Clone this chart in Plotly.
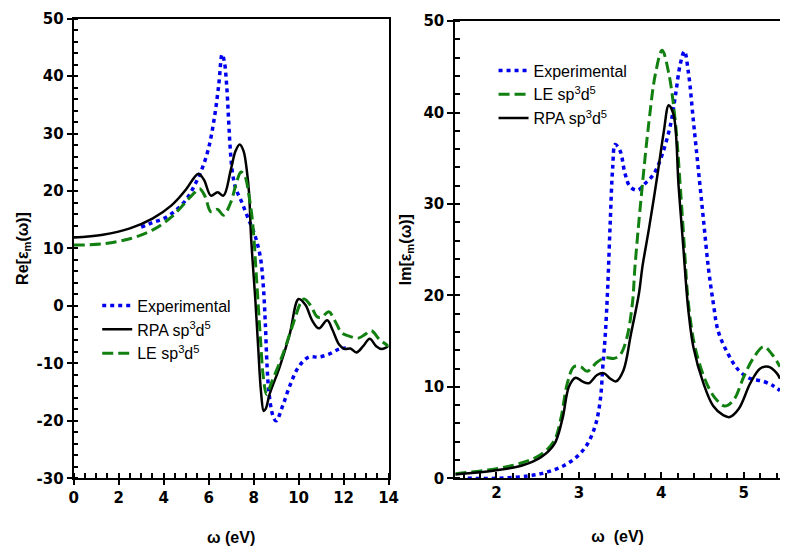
import plotly.graph_objects as go

# ---- Real part of the dielectric function ----
exp_re_w = [3.0, 3.5, 4.0, 4.5, 5.0, 5.4, 5.7, 6.0, 6.25, 6.45, 6.6, 6.7, 6.8, 6.88, 6.95, 7.05,
            7.2, 7.45, 7.75, 8.05, 8.3, 8.43, 8.52, 8.6, 8.68, 8.85, 9.0, 9.3, 9.6, 10.0,
            10.45, 10.9, 11.35, 11.8, 12.1]
exp_re = [13.7, 14.5, 15.2, 16.5, 18.5, 21.2, 23.8, 27.5, 32.6, 38.5, 43.8, 42.5, 38.5, 33.0,
          28.0, 23.5, 20.5, 18.3, 15.3, 12.4, 8.5, 3.5, -3.0, -10.6, -15.0, -19.0, -20.0,
          -17.3, -14.0, -10.6, -8.9, -8.9, -8.4, -7.5, -7.3]

rpa_re_w = [0.0, 1.3, 2.5, 3.5, 4.35, 5.0, 5.35, 5.55, 5.8, 6.1, 6.4, 6.66, 6.98, 7.2, 7.38,
            7.55, 7.7, 7.8, 7.88, 7.97, 8.07, 8.2, 8.33, 8.45, 8.55, 8.7, 9.16, 9.6, 10.0,
            10.3, 10.6, 10.9, 11.27, 11.5, 11.8, 12.05, 12.3, 12.57, 12.87, 13.16, 13.45,
            13.7, 14.0]
rpa_re = [11.9, 12.4, 13.5, 15.2, 17.5, 20.3, 22.3, 23.0, 21.9, 19.2, 19.8, 19.2, 23.6, 27.0,
          28.1, 27.0, 23.5, 19.5, 12.5, 7.0, 1.5, -7.0, -15.0, -18.3, -17.8, -15.5, -10.6,
          -5.0, 1.2, 0.2, -2.5, -3.9, -2.5, -4.1, -6.7, -7.5, -7.4, -8.1, -7.0, -5.7, -7.0,
          -7.5, -7.0]

le_re_w = [0.0, 1.3, 2.5, 3.5, 4.35, 5.1, 5.4, 5.6, 5.85, 6.1, 6.4, 6.66, 6.98, 7.27, 7.44,
           7.62, 7.78, 7.92, 8.02, 8.1, 8.2, 8.3, 8.43, 8.58, 8.79, 9.3, 9.74, 10.1, 10.25,
           10.54, 10.83, 11.05, 11.34, 11.63, 11.92, 12.28, 12.65, 12.94, 13.23, 13.59, 14.0]
le_re = [10.6, 10.8, 11.7, 13.2, 15.5, 18.6, 19.8, 20.4, 19.0, 16.4, 16.8, 15.8, 18.0, 21.9,
         23.3, 22.5, 19.5, 15.8, 11.5, 6.5, 0.5, -5.5, -12.3, -15.4, -13.4, -8.4, -3.3, 0.6,
         1.2, 0.05, -1.9, -1.9, -1.0, -2.7, -4.7, -5.3, -5.6, -5.0, -4.3, -5.8, -7.0]

# ---- Imaginary part of the dielectric function ----
exp_im_w = [1.65, 2.0, 2.38, 2.62, 2.82, 2.98, 3.1, 3.2, 3.26, 3.29, 3.32, 3.35, 3.38, 3.41,
            3.44, 3.5, 3.56, 3.62, 3.71, 3.81, 3.91, 4.01, 4.11, 4.17, 4.23, 4.28, 4.33, 4.39,
            4.45, 4.51, 4.57, 4.63, 4.69, 4.81, 4.94, 5.08, 5.24, 5.36, 5.44]
exp_im = [0.0, 0.0, 0.25, 0.7, 1.4, 2.4, 3.7, 5.8, 8.6, 12.2, 15.7, 21.0, 28.0, 34.0, 36.5,
          35.8, 33.3, 31.9, 31.5, 32.3, 33.3, 35.4, 38.6, 41.8, 45.3, 46.7, 44.3, 39.0, 33.7,
          28.4, 23.1, 19.2, 16.1, 13.6, 11.8, 10.9, 10.6, 10.1, 9.6]

le_im_w = [1.5, 2.0, 2.31, 2.54, 2.7, 2.78, 2.86, 2.94, 3.02, 3.1, 3.22, 3.32, 3.42, 3.5, 3.58,
           3.65, 3.68, 3.75, 3.85, 3.93, 4.01, 4.09, 4.17, 4.23, 4.29, 4.31, 4.35, 4.41, 4.53,
           4.65, 4.77, 4.88, 5.0, 5.12, 5.24, 5.34, 5.44]
le_im = [0.5, 1.06, 1.7, 2.6, 4.1, 6.5, 10.4, 12.2, 12.2, 11.7, 12.7, 13.2, 13.1, 13.5, 15.3,
         19.2, 23.1, 30.2, 39.0, 44.3, 46.8, 44.3, 39.0, 31.9, 23.8, 21.0, 17.5, 14.3, 10.8,
         8.8, 7.9, 8.6, 11.1, 13.2, 14.4, 13.6, 12.2]

rpa_im_w = [1.5, 2.0, 2.31, 2.54, 2.7, 2.8, 2.88, 2.96, 3.04, 3.12, 3.22, 3.3, 3.38, 3.45, 3.54,
            3.63, 3.73, 3.77, 3.85, 3.95, 4.03, 4.09, 4.15, 4.21, 4.27, 4.29, 4.33, 4.39, 4.51,
            4.63, 4.75, 4.83, 4.94, 5.08, 5.2, 5.3, 5.4, 5.44]
rpa_im = [0.42, 0.88, 1.4, 2.3, 3.7, 6.5, 10.05, 11.0, 10.6, 10.4, 11.3, 11.5, 10.9, 10.6,
          11.8, 15.7, 20.3, 23.1, 27.3, 33.0, 37.9, 40.8, 39.7, 31.9, 24.9, 22.4, 18.2, 14.3,
          10.4, 7.9, 6.9, 6.7, 7.6, 10.4, 12.0, 12.2, 11.5, 10.9]

# tick positions and labels (plain hyphen for negative values)
re_yticks = [-30, -20, -10, 0, 10, 20, 30, 40, 50]
re_ylabels = ["-30", "-20", "-10", "0", "10", "20", "30", "40", "50"]
re_xticks = [0, 2, 4, 6, 8, 10, 12, 14]
im_yticks = [0, 10, 20, 30, 40, 50]
im_xticks = [2, 3, 4, 5]

names = ["Experimental", "RPA sp<sup>3</sup>d<sup>5</sup>", "LE sp<sup>3</sup>d<sup>5</sup>"]

BLUE = "#0000ee"
GREEN = "#118011"
BLACK = "#000000"
DOT = "4px,4px"
DASH = "11px,5px"

fig = go.Figure()

# left panel: Experimental, RPA, LE
fig.add_trace(go.Scatter(x=exp_re_w, y=exp_re, name=names[0], mode="lines", line_shape="spline",
                         line=dict(color=BLUE, width=3.5, dash=DOT), xaxis="x", yaxis="y"))
fig.add_trace(go.Scatter(x=rpa_re_w, y=rpa_re, name=names[1], mode="lines", line_shape="spline",
                         line=dict(color=BLACK, width=2.5), xaxis="x", yaxis="y"))
fig.add_trace(go.Scatter(x=le_re_w, y=le_re, name=names[2], mode="lines", line_shape="spline",
                         line=dict(color=GREEN, width=3, dash=DASH), xaxis="x", yaxis="y"))

# right panel: Experimental, LE, RPA
fig.add_trace(go.Scatter(x=exp_im_w, y=exp_im, name=names[0], mode="lines", line_shape="spline",
                         line=dict(color=BLUE, width=3.5, dash=DOT), xaxis="x2", yaxis="y2",
                         legend="legend2"))
fig.add_trace(go.Scatter(x=le_im_w, y=le_im, name=names[2], mode="lines", line_shape="spline",
                         line=dict(color=GREEN, width=3, dash=DASH), xaxis="x2", yaxis="y2",
                         legend="legend2"))
fig.add_trace(go.Scatter(x=rpa_im_w, y=rpa_im, name=names[1], mode="lines", line_shape="spline",
                         line=dict(color=BLACK, width=2.5), xaxis="x2", yaxis="y2",
                         legend="legend2"))

tickfont = dict(family="DejaVu Sans", size=15, color="black", weight="bold")
titlefont = dict(family="Liberation Sans, Arial", size=16, color="black", weight="bold")
legfont = dict(family="Liberation Sans, Arial", size=16, color="black")

common_axis = dict(showgrid=False, zeroline=False, showline=True, linecolor="black",
                   linewidth=2, tickcolor="black", tickwidth=2, tickfont=tickfont,
                   tickmode="array")


def minor_ticks(step, length):
    return dict(dtick=step, tick0=0, ticks="inside", ticklen=length, tickwidth=2,
                tickcolor="black", showgrid=False)


fig.update_layout(
    width=790, height=556,
    margin=dict(l=0, r=0, t=0, b=0),
    paper_bgcolor="white", plot_bgcolor="white",
    xaxis=dict(common_axis, domain=[70 / 790, 391 / 790], range=[0, 14], anchor="y",
               tickvals=re_xticks, ticks="outside", ticklen=5, mirror=True,
               minor=minor_ticks(0.5, 5),
               title=dict(text="<b>ω (eV)</b>", font=titlefont, standoff=26)),
    yaxis=dict(common_axis, domain=[71 / 556, 546 / 556], range=[-30, 50], anchor="x",
               tickvals=re_yticks, ticktext=re_ylabels, ticks="outside", ticklen=5,
               mirror=True, minor=minor_ticks(2, 4),
               title=dict(text="<b>Re[ε<sub>m</sub>(ω)]</b>", font=titlefont, standoff=4)),
    xaxis2=dict(common_axis, domain=[459 / 790, 1.0], range=[1.5, 5.44], anchor="y2",
                tickvals=im_xticks, ticks="inside", ticklen=6, mirror=True,
                minor=minor_ticks(0.2, 5),
                title=dict(text="<b>ω  (eV)</b>", font=titlefont, standoff=30)),
    yaxis2=dict(common_axis, domain=[71 / 556, 543.5 / 556], range=[0, 50], anchor="x2",
                tickvals=im_yticks, ticks="outside", ticklen=6,
                minor=minor_ticks(2, 5),
                title=dict(text="<b>Im[ε<sub>m</sub>(ω)]</b>", font=titlefont, standoff=8)),
    legend=dict(x=94 / 790, y=(556 - 289) / 556, xanchor="left", yanchor="top",
                bgcolor="rgba(0,0,0,0)", font=legfont),
    legend2=dict(x=498 / 790, y=(556 - 46) / 556, xanchor="left", yanchor="top",
                 bgcolor="rgba(0,0,0,0)", font=legfont),
)

fig.write_html("out.html")
